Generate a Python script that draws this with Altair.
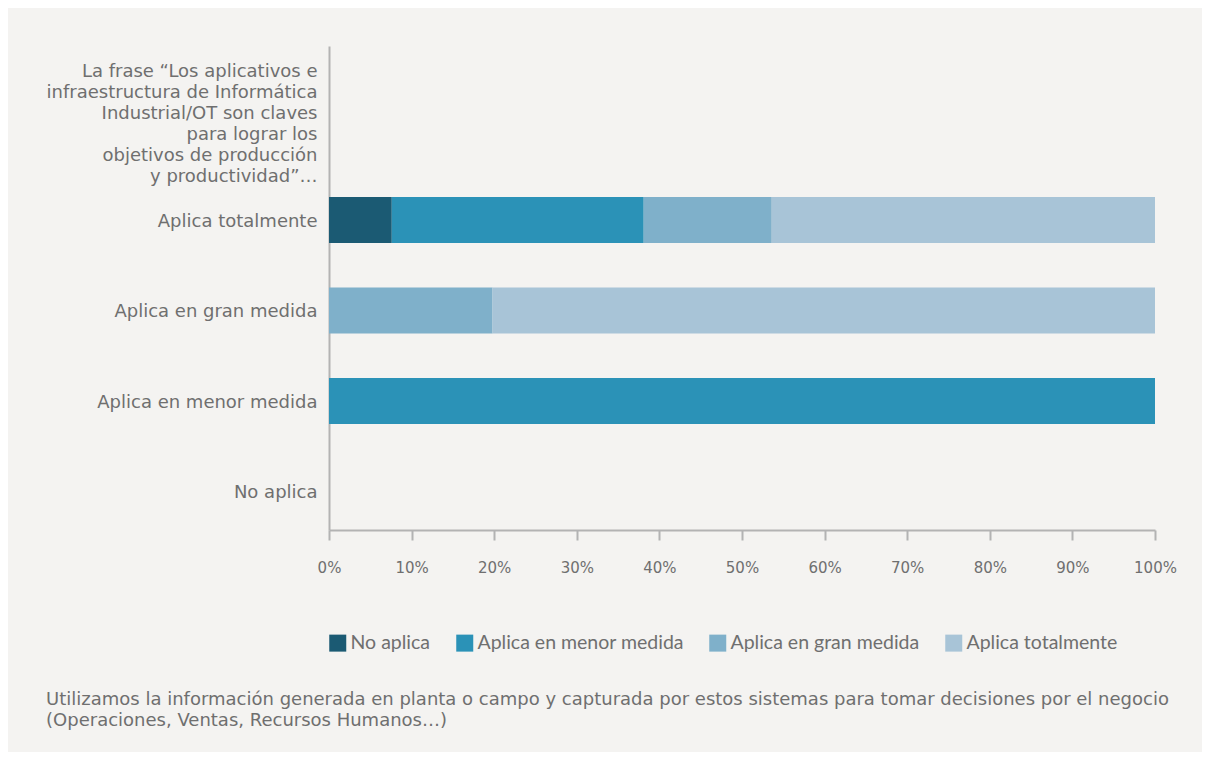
import altair as alt
import pandas as pd

# ---- data ----
question = ("La frase “Los aplicativos e|infraestructura de Informática|"
            "Industrial/OT son claves|para lograr los|objetivos de producción|"
            "y productividad”…")
rows = [question, "Aplica totalmente", "Aplica en gran medida",
        "Aplica en menor medida", "No aplica"]
series = ["No aplica", "Aplica en menor medida", "Aplica en gran medida",
          "Aplica totalmente"]
colors = ["#1b5a73", "#2b92b7", "#7fb0ca", "#a8c4d7"]

# percentage of each series in each row (order = series)
vals_totalmente = [7.6, 30.5, 15.5, 46.4]
vals_gran = [0, 0, 19.8, 80.2]
vals_menor = [0, 100, 0, 0]
vals_no = [0, 0, 0, 0]

x_ticks = [0, 0.1, 0.2, 0.3, 0.4, 0.5, 0.6, 0.7, 0.8, 0.9, 1.0]
footer = ["Utilizamos la información generada en planta o campo y capturada por estos sistemas para tomar decisiones por el negocio",
          "(Operaciones, Ventas, Recursos Humanos…)"]

records = []
for row, vals in [("Aplica totalmente", vals_totalmente),
                  ("Aplica en gran medida", vals_gran),
                  ("Aplica en menor medida", vals_menor),
                  ("No aplica", vals_no)]:
    for i, (s, v) in enumerate(zip(series, vals)):
        if v > 0:
            records.append({"row": row, "series": s, "idx": i, "value": v / 100})
df = pd.DataFrame(records)

TEXT = "#6f6f6f"
AXIS = "#b3b3b3"
BG = "#f4f3f1"

chart = alt.Chart(df).mark_bar().encode(
    x=alt.X("value:Q", stack="zero",
            scale=alt.Scale(domain=[0, 1], nice=False),
            axis=alt.Axis(title=None, format=".0%", values=x_ticks, grid=False,
                          domainColor=AXIS, domainWidth=2, tickColor=AXIS,
                          tickWidth=2, tickSize=10, labelPadding=20,
                          labelFlush=False,
                          labelFont="DejaVu Sans", labelFontSize=15,
                          labelColor=TEXT)),
    y=alt.Y("row:N", sort=rows,
            scale=alt.Scale(domain=rows, paddingInner=0.49, paddingOuter=0.42,
                            align=0.796),
            axis=alt.Axis(title=None, ticks=False, domainColor=AXIS,
                          domainWidth=2, labelPadding=12, labelLimit=500,
                          labelFont="DejaVu Sans", labelFontSize=18,
                          labelColor=TEXT, labelLineHeight=21,
                          labelExpr="split(datum.label, '|')",
                          labelOffset={"condition": {"test": "indexof(datum.value, '|') >= 0",
                                                     "value": -58},
                                       "value": 2})),
    color=alt.Color("series:N",
                    scale=alt.Scale(domain=series, range=colors),
                    legend=alt.Legend(title=None, orient="none", legendX=-1,
                                      legendY=587, direction="horizontal",
                                      columns=4, symbolType="square",
                                      symbolSize=289, symbolStrokeWidth=0,
                                      labelFont="Lato", labelFontSize=19.5,
                                      labelColor=TEXT, labelOffset=3,
                                      columnPadding=24, labelLimit=400)),
    order=alt.Order("idx:Q"),
).properties(
    width=826,
    height=484,
    autosize=alt.AutoSizeParams(type="none"),
    padding={"left": 321, "top": 38, "right": 47, "bottom": 222},
    background=BG,
    title=alt.TitleParams(text=footer, orient="bottom", anchor="start",
                          frame="bounds", offset=38, font="DejaVu Sans",
                          fontSize=18, fontWeight="normal", color=TEXT,
                          lineHeight=21),
).configure_view(strokeWidth=0)

chart.save("out.html", embed_options={"renderer": "svg", "actions": False})
